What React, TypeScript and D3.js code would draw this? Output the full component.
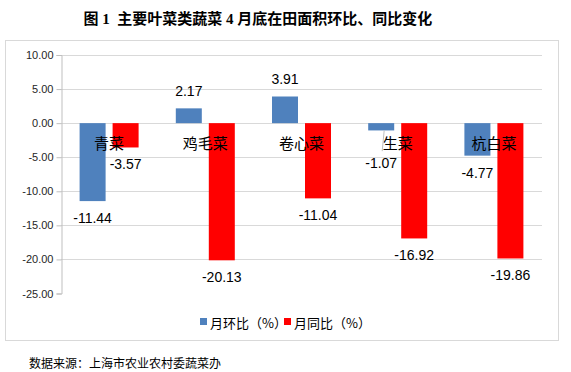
import React, { useEffect, useRef } from 'react';
import * as d3 from 'd3';

const width = 571;
const height = 372;

const categories = ['青菜', '鸡毛菜', '卷心菜', '生菜', '杭白菜'];
const seriesNames = ['月环比（%）', '月同比（%）'];
const huanbi = [-11.44, 2.17, 3.91, -1.07, -4.77];
const tongbi = [-3.57, -20.13, -11.04, -16.92, -19.86];
const colors = ['#4f81bd', '#ff0000'];
const yTicks = [10, 5, 0, -5, -10, -15, -20, -25];

const cjk = '"Noto Sans CJK SC", "Liberation Sans", sans-serif';
const num = '"Liberation Sans", Arial, sans-serif';
const fmt = (v: number) => v.toFixed(2);

const App: React.FC = () => {
  const ref = useRef<SVGSVGElement>(null);

  useEffect(() => {
    if (!ref.current) return;
    const svg = d3.select(ref.current);
    svg.selectAll('*').remove();

    const left = 61;
    const right = 542;
    const y = d3.scaleLinear().domain([-25, 10]).range([293.5, 55]);
    const x0 = d3.scaleBand<string>().domain(categories).range([left, right]);
    const x1 = d3
      .scaleBand<number>()
      .domain([0, 1])
      .range([(x0.bandwidth() - 59) / 2, (x0.bandwidth() + 59) / 2])
      .paddingInner(0.2121);

    // title
    svg
      .append('text')
      .attr('x', 258)
      .attr('y', 19)
      .attr('text-anchor', 'middle')
      .attr('dominant-baseline', 'central')
      .style('white-space', 'pre')
      .style('font-family', '"Liberation Serif", "Noto Sans CJK SC", serif')
      .style('font-weight', 'bold')
      .style('font-size', '15px')
      .style('fill', '#000')
      .text('图 1  主要叶菜类蔬菜 4 月底在田面积环比、同比变化');

    // frame
    svg
      .append('rect')
      .attr('x', 5.5)
      .attr('y', 40.5)
      .attr('width', 553)
      .attr('height', 300)
      .attr('fill', '#fff')
      .attr('stroke', '#d9d9d9');

    // gridlines
    svg
      .append('g')
      .selectAll('line')
      .data(yTicks.filter(t => t !== -25))
      .enter()
      .append('line')
      .attr('x1', left)
      .attr('x2', right)
      .attr('y1', d => Math.round(y(d)) + 0.5)
      .attr('y2', d => Math.round(y(d)) + 0.5)
      .attr('stroke', '#d9d9d9');

    // y axis
    const axis = svg
      .append('g')
      .attr('transform', `translate(${left + 0.5},0)`)
      .call(
        d3
          .axisLeft(y)
          .tickValues(yTicks)
          .tickSize(5)
          .tickPadding(3)
          .tickFormat(d => fmt(d as number))
      );
    axis.select('.domain').attr('stroke', '#bfbfbf');
    axis.selectAll('.tick line').attr('stroke', '#bfbfbf');
    axis
      .selectAll('.tick text')
      .style('font-family', num)
      .style('font-size', '11px')
      .style('fill', '#262626');

    const series = [huanbi, tongbi];

    // bars
    series.forEach((vals, si) => {
      svg
        .append('g')
        .selectAll('rect')
        .data(vals)
        .enter()
        .append('rect')
        .attr('x', (d, i) => (x0(categories[i]) as number) + (x1(si) as number))
        .attr('width', x1.bandwidth())
        .attr('y', d => y(Math.max(0, d)))
        .attr('height', d => Math.abs(y(d) - y(0)))
        .attr('fill', colors[si]);
    });

    // category labels near the zero line
    svg
      .append('g')
      .selectAll('text')
      .data(categories)
      .enter()
      .append('text')
      .attr('x', d => (x0(d) as number) + x0.bandwidth() / 2)
      .attr('y', y(0) + 19)
      .attr('text-anchor', 'middle')
      .attr('dominant-baseline', 'central')
      .style('font-family', cjk)
      .style('font-size', '15px')
      .style('fill', '#000')
      .text(d => d);

    // data labels
    series.forEach((vals, si) => {
      vals.forEach((v, i) => {
        const cx = (x0(categories[i]) as number) + (x1(si) as number) + x1.bandwidth() / 2;
        let ly = v >= 0 ? y(v) - 17 : y(v) + 17;
        let pushed = false;
        if (v < 0 && ly < y(0) + 40) {
          pushed = ly < y(0) + 30;
          ly = y(0) + 40;
        }
        if (pushed) {
          svg
            .append('line')
            .attr('x1', cx + 3)
            .attr('y1', y(v))
            .attr('x2', cx + 1)
            .attr('y2', ly - 12)
            .attr('stroke', '#bfbfbf')
            .attr('stroke-width', 1);
        }
        svg
          .append('text')
          .attr('x', cx)
          .attr('y', ly)
          .attr('text-anchor', 'middle')
          .attr('dominant-baseline', 'central')
          .style('font-family', num)
          .style('font-size', '14px')
          .style('fill', '#000')
          .text(fmt(v));
      });
    });

    // legend
    const legend = svg.append('g').attr('transform', 'translate(200,322)');
    const lx = [0, 84];
    seriesNames.forEach((name, i) => {
      legend
        .append('rect')
        .attr('x', lx[i])
        .attr('y', -4)
        .attr('width', 7)
        .attr('height', 7)
        .attr('fill', colors[i]);
      legend
        .append('text')
        .attr('x', lx[i] + 10)
        .attr('y', 0)
        .attr('dominant-baseline', 'central')
        .style('font-family', cjk)
        .style('font-size', '13px')
        .style('fill', '#000')
        .text(name);
    });

    // source
    svg
      .append('text')
      .attr('x', 29)
      .attr('y', 362)
      .attr('dominant-baseline', 'central')
      .style('font-family', cjk)
      .style('font-size', '12px')
      .style('fill', '#000')
      .text('数据来源：上海市农业农村委蔬菜办');
  }, []);

  return (
    <svg
      ref={ref}
      width={width}
      height={height}
      style={{ position: 'absolute', left: 0, top: 0, background: '#fff' }}
    />
  );
};

export default App;
